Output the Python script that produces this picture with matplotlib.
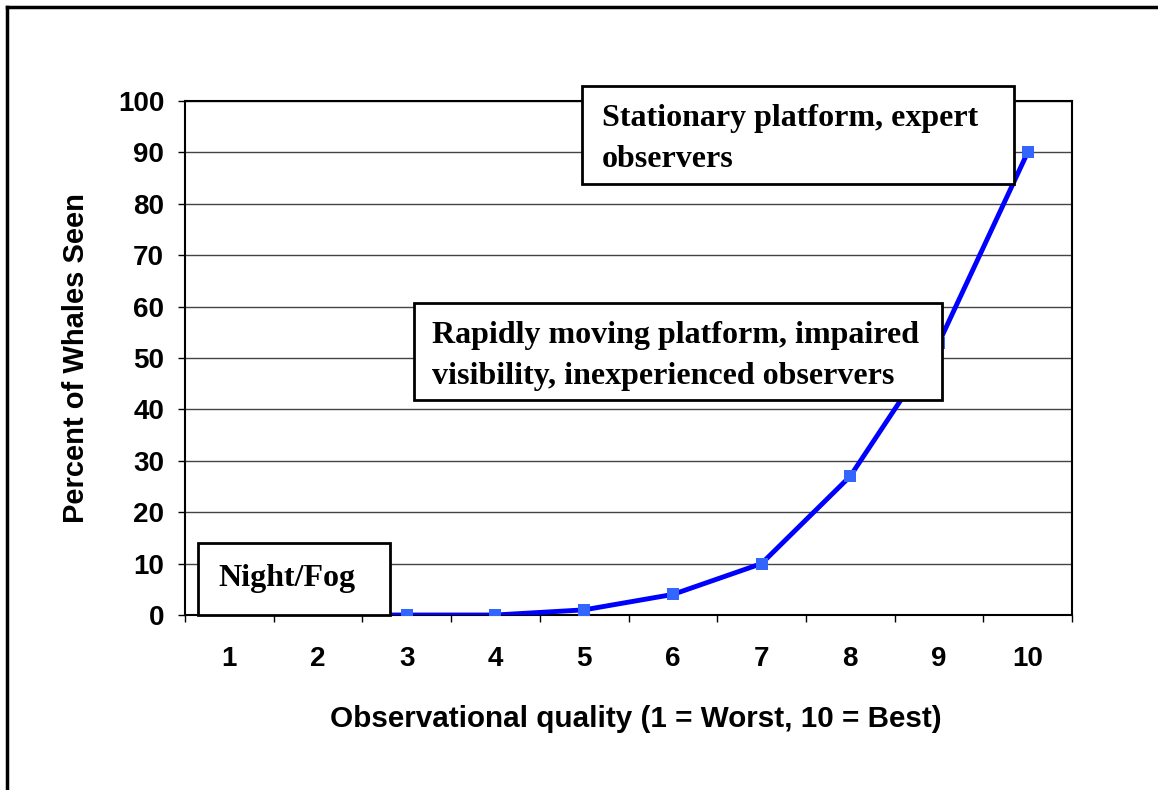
"""
Percent of whales seen vs observational quality.
"""

import matplotlib
matplotlib.use('Agg')
import matplotlib.pyplot as plt
from matplotlib.patches import Rectangle
from matplotlib.lines import Line2D

# data
quality = [1, 2, 3, 4, 5, 6, 7, 8, 9, 10]
percent_seen = [0, 0, 0, 0, 1, 4, 10, 27, 53, 90]
y_ticks = [0, 10, 20, 30, 40, 50, 60, 70, 80, 90, 100]
box_texts = ['Stationary platform, expert\nobservers',
             'Rapidly moving platform, impaired\nvisibility, inexperienced observers',
             'Night/Fog']

W, H = 1158, 790
fig = plt.figure(figsize=(W / 100, H / 100), dpi=100)
ax = fig.add_axes([185 / W, 1 - 615 / H, (1072 - 185) / W, (615 - 101) / H])

ax.plot(quality, percent_seen, color='#0000FF', lw=3.5, zorder=3)
ax.plot(quality, percent_seen, 's', color='#3366FF', ms=9, zorder=4,
        markeredgewidth=0)

ax.set_xlim(0.5, 10.5)
ax.set_ylim(0, 100)
ax.set_yticks(y_ticks)
ax.yaxis.grid(True, color='#444444', lw=1)
ax.set_axisbelow(True)

# category axis: labels centred, ticks between categories
ax.set_xticks(quality)
ax.set_xticklabels([str(q) for q in quality])
ax.set_xticks([q - 0.5 for q in quality] + [10.5], minor=True)
ax.tick_params(axis='x', which='major', length=0, pad=22)
ax.tick_params(axis='x', which='minor', length=5, direction='out', width=1)
ax.tick_params(axis='y', length=5, direction='out', width=1, pad=10)

for lab in ax.get_xticklabels() + ax.get_yticklabels():
    lab.set_fontfamily('Liberation Sans')
    lab.set_fontweight('bold')
    lab.set_fontsize(20)

for sp in ax.spines.values():
    sp.set_linewidth(1.5)
    sp.set_color('black')

ax.set_xlabel('Observational quality (1 = Worst, 10 = Best)',
              fontfamily='Liberation Sans', fontweight='bold', fontsize=21.3,
              labelpad=24)
ax.xaxis.label.set_x(0.508)
ax.set_ylabel('Percent of Whales Seen', fontfamily='Liberation Sans',
              fontweight='bold', fontsize=21, labelpad=20)

# annotation boxes (pixel boxes in the figure)
boxes = [(582, 86, 1014, 184, 602, 104),
         (414, 303, 942, 400, 432, 321),
         (198, 543, 390, 615, 218, 564)]
for (x0, y0, x1, y1, tx, ty), txt in zip(boxes, box_texts):
    fig.add_artist(Rectangle((x0 / W, 1 - y1 / H), (x1 - x0) / W,
                             (y1 - y0) / H, transform=fig.transFigure,
                             facecolor='white', edgecolor='black', lw=2,
                             zorder=10))
    fig.text(tx / W, 1 - ty / H, txt, family='Liberation Serif',
             weight='bold', fontsize=23, va='top', ha='left',
             linespacing=1.55, zorder=11)

# outer frame, left and top only
fig.add_artist(Line2D([7 / W, 7 / W], [0, 1 - 7 / H], color='black', lw=2.5,
                      transform=fig.transFigure))
fig.add_artist(Line2D([7 / W, 1], [1 - 7 / H, 1 - 7 / H], color='black',
                      lw=2.5, transform=fig.transFigure))

fig.savefig('out.png', dpi=100)
